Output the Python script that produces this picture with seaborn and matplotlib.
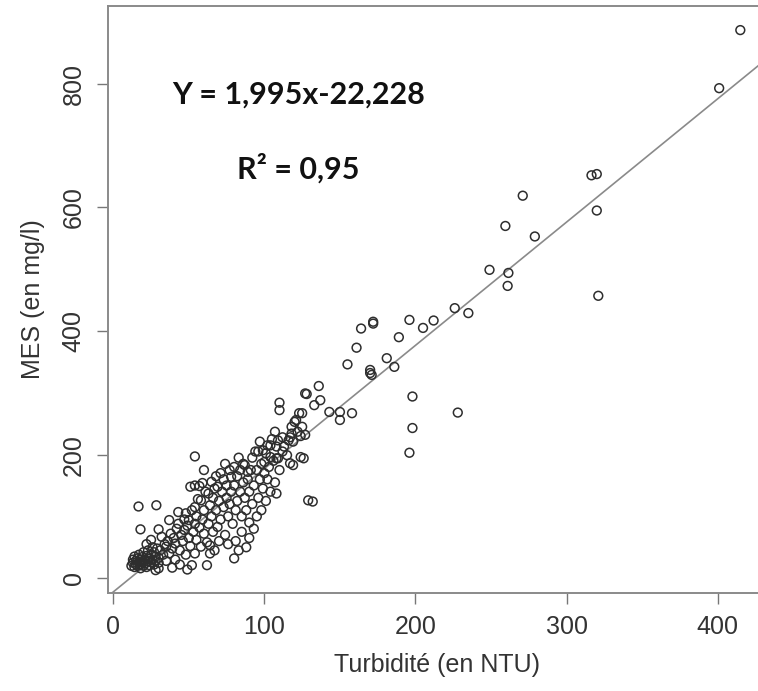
import matplotlib
matplotlib.use("Agg")
import matplotlib.pyplot as plt
import seaborn as sns
import pandas as pd

# ---- data ----
turbidite = [
    12, 13, 13, 14, 14, 15, 15, 16, 16, 17, 17, 18, 18, 18, 19, 19, 20, 20, 21, 21,
    22, 22, 23, 23, 24, 24, 25, 25, 26, 26, 27, 27, 28, 28, 29, 30, 30, 28, 30,
    16.7, 28.5, 18, 30, 22, 25,
    31, 32, 33, 34, 35, 35, 36, 37, 37, 38, 39, 39, 40, 41, 41, 42, 43, 43, 44, 44,
    45, 46, 47, 47, 48, 48, 49, 49, 50, 50,
    51, 51, 52, 52, 53, 54, 54, 54, 54, 54, 55, 55, 56, 57, 57, 58, 58, 59, 59, 60,
    60, 60, 61, 62, 62, 63, 63, 64, 64, 65, 65, 66, 66, 67, 67, 68, 68, 69, 69, 70, 70, 64,
    71, 71, 72, 73, 73, 74, 74, 75, 75, 76, 76, 77, 77, 78, 78, 79, 80, 80, 80, 81,
    81, 82, 82, 83, 83, 84, 84, 85, 85, 86, 86, 87, 87, 88, 88, 89, 89, 90, 90, 90,
    91, 92, 92, 93, 93, 94, 95, 95, 96, 96, 97, 97, 98, 98, 99, 99, 100, 100, 101, 101,
    102, 102, 103, 104, 104, 104, 105, 106, 107, 107, 108, 108, 108, 109, 109, 110, 110, 110,
    112, 112, 113, 115, 116, 117, 117, 118, 118, 119, 119, 120, 121, 122, 123, 124, 124, 125,
    125, 126, 127, 127, 128, 129, 132, 133, 136, 137, 143, 150, 150, 158,
    155, 161, 164, 170, 170, 171, 172, 172, 181, 186, 189, 196, 196, 198, 198, 205, 212,
    226, 228, 235, 249, 259.5, 261, 261.5, 271, 279, 316.5, 320, 320, 321, 401, 415,
]
mes = [
    20, 25, 30, 18, 35, 22, 28, 32, 20, 26, 38, 22, 30, 16, 34, 26, 20, 42, 30, 24,
    36, 18, 27, 45, 32, 21, 38, 26, 30, 50, 22, 42, 35, 28, 48, 33, 25, 13, 16,
    116, 118, 79, 79, 55, 62,
    45, 67, 38, 55, 51, 28, 60, 40, 94, 72, 17, 48, 65, 56, 30, 80, 88, 107, 45, 22,
    70, 60, 78, 95, 105, 38, 14, 85, 94, 65,
    148, 52, 21, 110, 75, 88, 115, 40, 150, 197, 100, 62, 128, 149, 82, 51, 126, 154, 95, 175,
    72, 110, 140, 21, 58, 137, 88, 53, 118, 156, 100, 75, 130, 145, 45, 110, 165, 83, 148, 125, 60, 40,
    95, 170, 140, 115, 160, 70, 185, 130, 150, 100, 55, 120, 175, 164, 140, 88, 32, 150, 180, 110,
    60, 125, 165, 45, 195, 175, 140, 100, 75, 155, 185, 183, 130, 50, 110, 172, 160, 90, 140, 65,
    175, 120, 195, 150, 80, 205, 175, 100, 205, 130, 160, 221, 185, 110, 207, 145, 188, 170, 202, 125,
    160, 215, 180, 196, 215, 140, 225, 190, 237, 155, 213, 194, 137, 194, 223, 284, 272, 175,
    205, 228, 213, 199, 223, 186, 228, 234, 245, 183, 221, 253, 256, 237, 267, 230, 196, 245,
    267, 194, 232, 299, 298, 126, 124, 280, 311, 288, 269, 269, 256, 267,
    346, 373, 404, 337, 332, 329, 415, 412, 356, 342, 390, 418, 203, 294, 243, 405, 417,
    437, 268, 429, 499, 570, 473, 494, 619, 553, 652, 654, 595, 457, 793, 887,
]
slope = 1.995
intercept = -22.228
x_ticks = [0, 100, 200, 300, 400]
y_ticks = [0, 200, 400, 600, 800]
equation_label = "Y = 1,995x-22,228"
r2_label = "R² = 0,95"
x_label = "Turbidité (en NTU)"
y_label = "MES (en mg/l)"

df = pd.DataFrame({"Turbidite": turbidite, "MES": mes})

sns.set_theme(style="white")
plt.rcParams["font.family"] = ["Liberation Sans", "DejaVu Sans"]

fig = plt.figure(figsize=(7.58, 6.91), dpi=100)
ax = fig.add_axes([108 / 758, 1 - 593 / 691, 658 / 758, 587 / 691])

sns.scatterplot(data=df, x="Turbidite", y="MES", ax=ax, marker="o",
                facecolor="none", edgecolor="#2e2e2e", linewidth=1.1, s=40, zorder=3)
ax.axline((0, intercept), slope=slope, color="#8a8a8a", linewidth=1.2, zorder=2)

ax.set_xlim(-3.5, 432)
ax.set_ylim(-24, 926)
ax.set_xticks(x_ticks)
ax.set_yticks(y_ticks)
ax.set_xticklabels([str(v) for v in x_ticks], fontsize=18, color="#333333")
ax.set_yticklabels([str(v) for v in y_ticks], fontsize=18, color="#333333",
                   rotation=90, va="center")
ax.tick_params(axis="both", direction="out", length=8, width=1.0, color="#777777",
               bottom=True, left=True, pad=8)
ax.set_xlabel(x_label, fontsize=18, color="#333333", labelpad=10)
ax.set_ylabel(y_label, fontsize=18, color="#333333", labelpad=12)
for sp in ax.spines.values():
    sp.set_color("#8a8a8a")
    sp.set_linewidth(1.4)

fig.text(172 / 758, 1 - 95 / 691, equation_label, fontsize=22, fontweight="bold",
         family=["Lato", "DejaVu Sans"], color="#111111", ha="left", va="center")
fig.text(237 / 758, 1 - 168 / 691, r2_label, fontsize=22, fontweight="bold",
         family=["Lato", "DejaVu Sans"], color="#111111", ha="left", va="center")

fig.savefig("out.png", dpi=100)
